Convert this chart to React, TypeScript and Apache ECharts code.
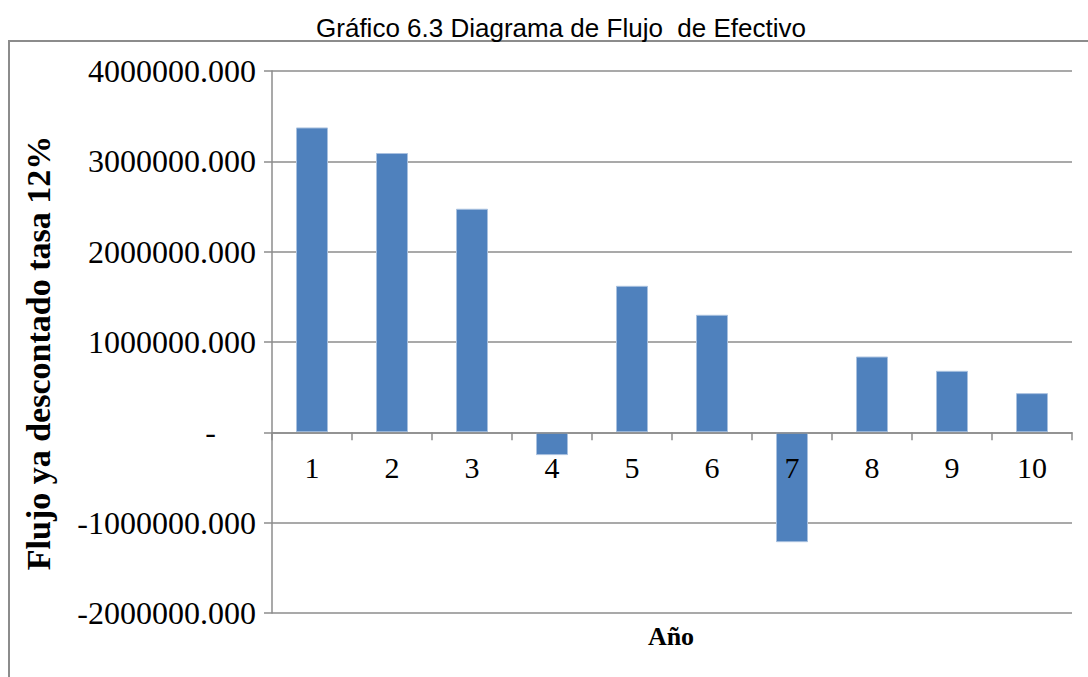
import React, { useEffect, useRef } from "react";
import * as echarts from "echarts";

const categories = ["1", "2", "3", "4", "5", "6", "7", "8", "9", "10"];
const flujo = [3375000, 3092000, 2475000, -252000, 1622000, 1301000, -1216000, 839000, 681000, 434000];
const yMin = -2000000;
const yMax = 4000000;
const yStep = 1000000;

const titleText = "Gráfico 6.3 Diagrama de Flujo  de Efectivo";
const yName = "Flujo ya descontado tasa 12%";
const xName = "Año";

const gray = "#8c8c8c";
const serif = "'Liberation Serif', 'Times New Roman', serif";

export default function App() {
  const ref = useRef<HTMLDivElement>(null);
  useEffect(() => {
    if (!ref.current) return;
    const chart = echarts.init(ref.current, undefined, { renderer: "svg" });
    const gridTop = 71;
    const gridBottom = 64;
    const plotH = 677 - gridTop - gridBottom;
    const zeroOffset = -(plotH * (0 - yMin)) / (yMax - yMin);
    chart.setOption({
      animation: false,
      backgroundColor: "#ffffff",
      title: {
        text: titleText,
        left: 556,
        top: 10,
        textAlign: "center",
        textStyle: {
          fontFamily: "'Liberation Sans', Arial, sans-serif",
          fontSize: 26,
          fontWeight: "normal",
          color: "#000",
        },
      },
      graphic: [
        {
          type: "rect",
          shape: { x: 9, y: 41, width: 1200, height: 800 },
          style: { fill: "none", stroke: gray, lineWidth: 2 },
          silent: true,
        },
        {
          type: "text",
          x: 671,
          y: 636,
          style: {
            text: xName,
            fontFamily: serif,
            fontSize: 26,
            fontWeight: "bold",
            fill: "#000",
            align: "center",
            verticalAlign: "middle",
          },
        },
        {
          type: "text",
          x: 38,
          y: 353,
          rotation: Math.PI / 2,
          style: {
            text: yName,
            fontFamily: serif,
            fontSize: 34,
            fontWeight: "bold",
            fill: "#000",
            align: "center",
            verticalAlign: "middle",
          },
        },
      ],
      grid: { left: 272, right: 16, top: gridTop, bottom: gridBottom, containLabel: false },
      xAxis: {
        type: "category",
        data: categories,
        position: "bottom",
        offset: zeroOffset,
        z: 10,
        axisLine: { onZero: false, lineStyle: { color: gray, width: 1.5 } },
        axisTick: { show: true, length: 8, lineStyle: { color: gray, width: 1.5 } },
        axisLabel: { margin: 20, fontFamily: serif, fontSize: 30, color: "#000" },
        splitLine: { show: false },
      },
      yAxis: {
        type: "value",
        min: yMin,
        max: yMax,
        interval: yStep,
        axisLine: { show: true, lineStyle: { color: gray, width: 1.5 } },
        axisTick: { show: true, length: 8, lineStyle: { color: gray, width: 1.5 } },
        axisLabel: {
          margin: 16,
          fontFamily: serif,
          fontSize: 32,
          color: "#000",
          formatter: (v: number) => (v === 0 ? "{d|-}" : v.toFixed(3)),
          rich: { d: { fontFamily: serif, fontSize: 32, color: "#000", padding: [0, 40, 0, 0] } },
        },
        splitLine: { show: true, lineStyle: { color: gray, width: 1.5 } },
      },
      series: [
        {
          type: "bar",
          data: flujo,
          barWidth: 32,
          itemStyle: { color: "#4F81BD", borderColor: "#a9c1df", borderWidth: 1 },
        },
      ],
    });
    return () => chart.dispose();
  }, []);
  return <div ref={ref} style={{ position: "fixed", left: 0, top: 0, width: 1088, height: 677 }} />;
}
